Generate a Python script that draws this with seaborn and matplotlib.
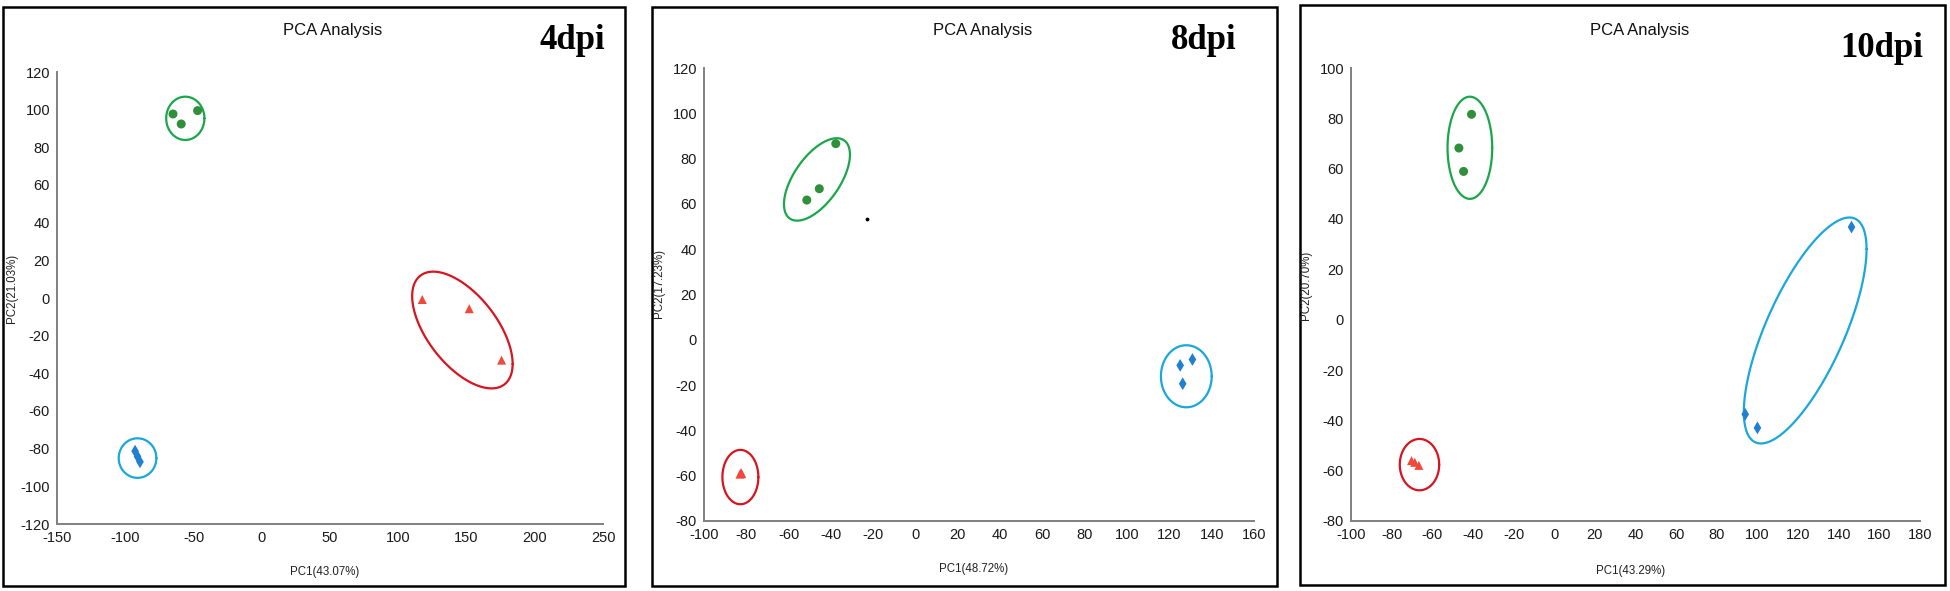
import numpy as np
import pandas as pd
import matplotlib
matplotlib.use("Agg")
import matplotlib.pyplot as plt
from matplotlib.patches import Rectangle
import seaborn as sns

# --- data ---
PANELS = ["4dpi", "8dpi", "10dpi"]
PC1_LABELS = ["PC1(43.07%)", "PC1(48.72%)", "PC1(43.29%)"]
PC2_LABELS = ["PC2(21.03%)", "PC2(17.23%)", "PC2(20.70%)"]
GROUPS = ["green", "red", "blue"]

# 4dpi
d4_green_x = [-65, -59, -47]
d4_green_y = [97.7, 92.4, 99.5]
d4_red_x = [117.6, 152, 175.7]
d4_red_y = [-0.8, -5.7, -33]
d4_blue_x = [-92.8, -91, -89.2]
d4_blue_y = [-81.3, -84.2, -87]

# 8dpi
d8_green_x = [-51.4, -45.5, -37.7]
d8_green_y = [61.7, 66.7, 86.6]
d8_red_x = [-83, -82.2, -82.5]
d8_red_y = [-59.3, -59.1, -58.6]
d8_blue_x = [125.1, 130.9, 126.3]
d8_blue_y = [-11.3, -8.7, -19.4]
d8_stray_x = [-23]
d8_stray_y = [53.5]

# 10dpi
d10_green_x = [-40.7, -46.9, -44.6]
d10_green_y = [81.6, 68.2, 58.9]
d10_red_x = [-70.2, -68.6, -66.6]
d10_red_y = [-56, -56.7, -57.9]
d10_blue_x = [146.3, 94, 100]
d10_blue_y = [36.8, -37.6, -43]

# confidence ellipses: centre x, centre y, half range x, half range y, correlation
ell_4dpi = {"green": (-56, 95.4, 14, 11.5, 0.0),
            "red": (147, -17, 36.8, 31, -0.58),
            "blue": (-91, -85, 13.8, 10.5, 0.0)}
ell_8dpi = {"green": (-46.6, 70.8, 15.6, 18.2, 0.6),
            "red": (-82.8, -60.6, 8.5, 12, 0.0),
            "blue": (128, -16.1, 12, 13.7, 0.0)}
ell_10dpi = {"green": (-41.5, 68.3, 11, 20.3, 0.0),
             "red": (-66.3, -57.6, 9.7, 10.2, 0.0),
             "blue": (123.5, -4.3, 30.2, 44.9, 0.72)}

XLIMS = [(-150, 250, 50), (-100, 160, 20), (-100, 180, 20)]
YLIMS = [(-120, 120, 20), (-80, 120, 20), (-80, 100, 20)]

POINT_COLORS = {"green": "#2f8f3a", "red": "#f2473a", "blue": "#1f7fd0"}
ELLIPSE_COLORS = {"green": "#1aa64a", "red": "#d7141f", "blue": "#19a7dc"}
MARKERS = {"green": "o", "red": "^", "blue": "d"}

# --- style ---
sns.set_style("white")
plt.rcParams['font.family'] = ['Liberation Sans', 'DejaVu Sans']
plt.rcParams['axes.unicode_minus'] = False

W, H = 1950, 591


def px(x, y):
    return x / W, 1 - y / H


def make_df(gx, gy, rx, ry, bx, by):
    rows = []
    for grp, xs, ys in (("green", gx, gy), ("red", rx, ry), ("blue", bx, by)):
        for x, y in zip(xs, ys):
            rows.append({"PC1": x, "PC2": y, "group": grp})
    return pd.DataFrame(rows)


frames = [make_df(d4_green_x, d4_green_y, d4_red_x, d4_red_y, d4_blue_x, d4_blue_y),
          make_df(d8_green_x, d8_green_y, d8_red_x, d8_red_y, d8_blue_x, d8_blue_y),
          make_df(d10_green_x, d10_green_y, d10_red_x, d10_red_y, d10_blue_x, d10_blue_y)]
ellipses = [ell_4dpi, ell_8dpi, ell_10dpi]

# layout in pixels: frame box, axes box (left, top, right, bottom)
FRAME_BOX = [(3, 7, 625, 586), (652, 7, 1277, 586), (1300, 5, 1945, 585)]
AXES_BOX = [(57, 72, 603, 524), (704, 68, 1254, 521), (1351, 68, 1920, 521)]
TITLE_POS = [(333, 30), (983, 30), (1640, 30)]
TAG_POS = [(539, 49), (1171, 49), (1840, 57)]
XLAB_POS = [(325, 572), (974, 569), (1631, 571)]
YLAB_POS = [(12, 288), (659, 284), (1306, 285)]

fig = plt.figure(figsize=(W / 100, H / 100), dpi=100)
t = np.linspace(0, 2 * np.pi, 300)

for i, name in enumerate(PANELS):
    l, tp, r, b = AXES_BOX[i]
    ax = fig.add_axes([l / W, 1 - b / H, (r - l) / W, (b - tp) / H])
    df = frames[i]

    # ellipses first, points on top
    for grp in GROUPS:
        cx, cy, hx, hy, rho = ellipses[i][grp]
        ex = cx + hx * np.cos(t)
        ey = cy + hy * (rho * np.cos(t) + np.sqrt(1 - rho ** 2) * np.sin(t))
        ax.plot(ex, ey, color=ELLIPSE_COLORS[grp], lw=1.6, zorder=2)

    sns.scatterplot(data=df, x="PC1", y="PC2", hue="group", style="group",
                    palette=POINT_COLORS, markers=MARKERS, s=42,
                    edgecolor="none", legend=False, ax=ax, zorder=3)
    if name == "8dpi":
        ax.scatter(d8_stray_x, d8_stray_y, s=3, color="black", zorder=3)

    x0, x1, xs = XLIMS[i]
    y0, y1, ys = YLIMS[i]
    ax.set_xlim(x0, x1)
    ax.set_ylim(y0, y1)
    ax.set_xticks(np.arange(x0, x1 + 1, xs))
    ax.set_yticks(np.arange(y0, y1 + 1, ys))
    ax.set_xlabel("")
    ax.set_ylabel("")
    sns.despine(ax=ax)
    for side in ("left", "bottom"):
        ax.spines[side].set_color("#808080")
        ax.spines[side].set_linewidth(1.4)
    ax.tick_params(axis="both", direction="out", length=4, width=1.2,
                   color="#808080", labelsize=10.5, labelcolor="#1a1a1a", pad=1)
    ax.patch.set_alpha(0)

    # texts
    fig.text(*px(*TITLE_POS[i]), "PCA Analysis", ha="center", va="center",
             fontsize=12, color="#111111")
    fig.text(*px(*TAG_POS[i]), name, ha="left", va="baseline", fontsize=25,
             fontweight="bold", family=["Liberation Serif", "DejaVu Serif"], color="black")
    fig.text(*px(*XLAB_POS[i]), PC1_LABELS[i], ha="center", va="center",
             fontsize=8.3, color="#222222")
    fig.text(*px(*YLAB_POS[i]), PC2_LABELS[i], ha="center", va="center",
             rotation=90, fontsize=8.3, color="#222222")

    # black frame around each panel
    fl, ft, fr, fb = FRAME_BOX[i]
    fig.patches.append(Rectangle((fl / W, 1 - fb / H), (fr - fl) / W, (fb - ft) / H,
                                 transform=fig.transFigure, fill=False,
                                 edgecolor="black", lw=1.8, zorder=0))

fig.savefig("out.png", dpi=100, facecolor="white")
